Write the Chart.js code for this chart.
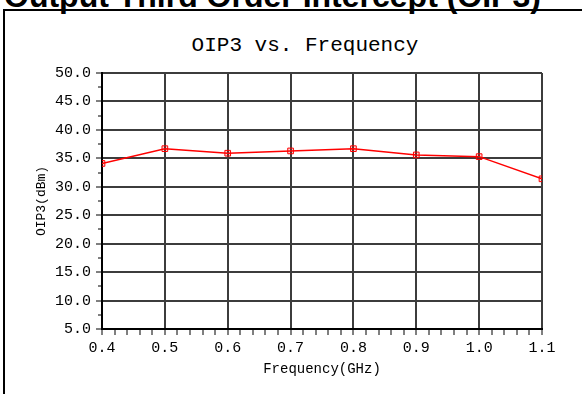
<!DOCTYPE html>
<html>
<head>
<meta charset="utf-8">
<script src="https://cdn.jsdelivr.net/npm/chart.js@4"></script>
<style>
  html, body { margin: 0; padding: 0; background: #fff; width: 582px; height: 394px; overflow: hidden; }
  #heading {
    position: absolute; left: 4px; top: -20px;
    font: bold 32px "Liberation Sans", Arial, sans-serif; line-height: 32px;
    color: #000; white-space: nowrap;
  }
  #frame {
    position: absolute; left: 3px; top: 9px; width: 600px; height: 400px;
    border-left: 2px solid #000; border-top: 2px solid #000;
  }
  #chartTitle {
    position: absolute; left: 105px; width: 400px; top: 34px; height: 26px;
    text-align: center; line-height: 26px; white-space: pre;
    font: 21px "Liberation Mono", "DejaVu Sans Mono", monospace; color: #000;
  }
  #wrap { position: absolute; left: 28px; top: 0; width: 554px; height: 394px; }
</style>
</head>
<body>
<div id="heading">Output Third Order Intercept (OIP3)</div>
<div id="frame"></div>
<div id="chartTitle">OIP3 vs. Frequency</div>
<div id="wrap"><canvas id="oip3Chart"></canvas></div>
<script>
// Werte
const frequenzen = [0.4, 0.5, 0.6, 0.7, 0.8, 0.9, 1.0, 1.1];
const oip3Werte = [34.1, 36.7, 35.9, 36.3, 36.7, 35.6, 35.3, 31.4];

const xMin = 0.4, xMax = 1.1;
const yMin = 5, yMax = 50;

const monoFont = '"Liberation Mono", "DejaVu Sans Mono", monospace';
const gridFarbe = "#3c3c3c";

const istMajorX = v => Math.abs(v * 10 - Math.round(v * 10)) < 1e-6;
const istMajorY = v => Math.abs(v / 5 - Math.round(v / 5)) < 1e-6;

const punkte = frequenzen.map((f, i) => ({ x: f, y: oip3Werte[i] }));

new Chart(document.getElementById("oip3Chart"), {
  type: "line",
  data: {
    datasets: [{
      label: "OIP3",
      data: punkte,
      borderColor: "#ff0000",
      borderWidth: 1.5,
      pointStyle: "rect",
      pointRadius: 4,
      pointBorderWidth: 1,
      pointBorderColor: "#ff0000",
      pointBackgroundColor: "rgba(255,0,0,0.15)",
      tension: 0
    }]
  },
  options: {
    responsive: true,
    maintainAspectRatio: false,
    animation: false,
    layout: { padding: { left: 0, right: 40, top: 73, bottom: 0 } },
    plugins: {
      legend: { display: false },
      tooltip: { enabled: false },
      title: { display: false }
    },
    scales: {
      x: {
        type: "linear",
        min: xMin,
        max: xMax,
        afterFit: scale => { scale.height = 65; },
        ticks: {
          stepSize: 0.02,
          autoSkip: false,
          maxRotation: 0,
          minRotation: 0,
          padding: 4,
          color: "#000",
          font: { family: monoFont, size: 15 },
          callback: v => istMajorX(v) ? v.toFixed(1) : ""
        },
        grid: {
          color: ctx => istMajorX(ctx.tick.value) ? gridFarbe : "rgba(0,0,0,0)",
          lineWidth: 2,
          tickLength: 6,
          tickColor: "#000",
          tickWidth: 1
        },
        border: { display: true, color: "#000", width: 2 },
        title: {
          display: true,
          text: "Frequency(GHz)",
          color: "#000",
          font: { family: monoFont, size: 14, lineHeight: 1.2 },
          padding: { top: 0, bottom: 16 }
        }
      },
      y: {
        type: "linear",
        min: yMin,
        max: yMax,
        afterFit: scale => { scale.width = 74; },
        ticks: {
          stepSize: 2.5,
          autoSkip: false,
          padding: 5,
          color: "#000",
          font: { family: monoFont, size: 15 },
          callback: v => istMajorY(v) ? v.toFixed(1) : ""
        },
        grid: {
          color: ctx => istMajorY(ctx.tick.value) ? gridFarbe : "rgba(0,0,0,0)",
          lineWidth: 2,
          tickLength: 6,
          tickColor: "#000",
          tickWidth: 1,
          // kurze Zwischenstriche
          tickBorderDash: ctx => istMajorY(ctx.tick.value) ? [] : [0, 2, 3, 20]
        },
        border: { display: true, color: "#000", width: 2 },
        title: {
          display: true,
          text: "OIP3(dBm)",
          color: "#000",
          font: { family: monoFont, size: 13, lineHeight: 1.2 },
          padding: { top: 6, bottom: 0 }
        }
      }
    }
  }
});
</script>
</body>
</html>
